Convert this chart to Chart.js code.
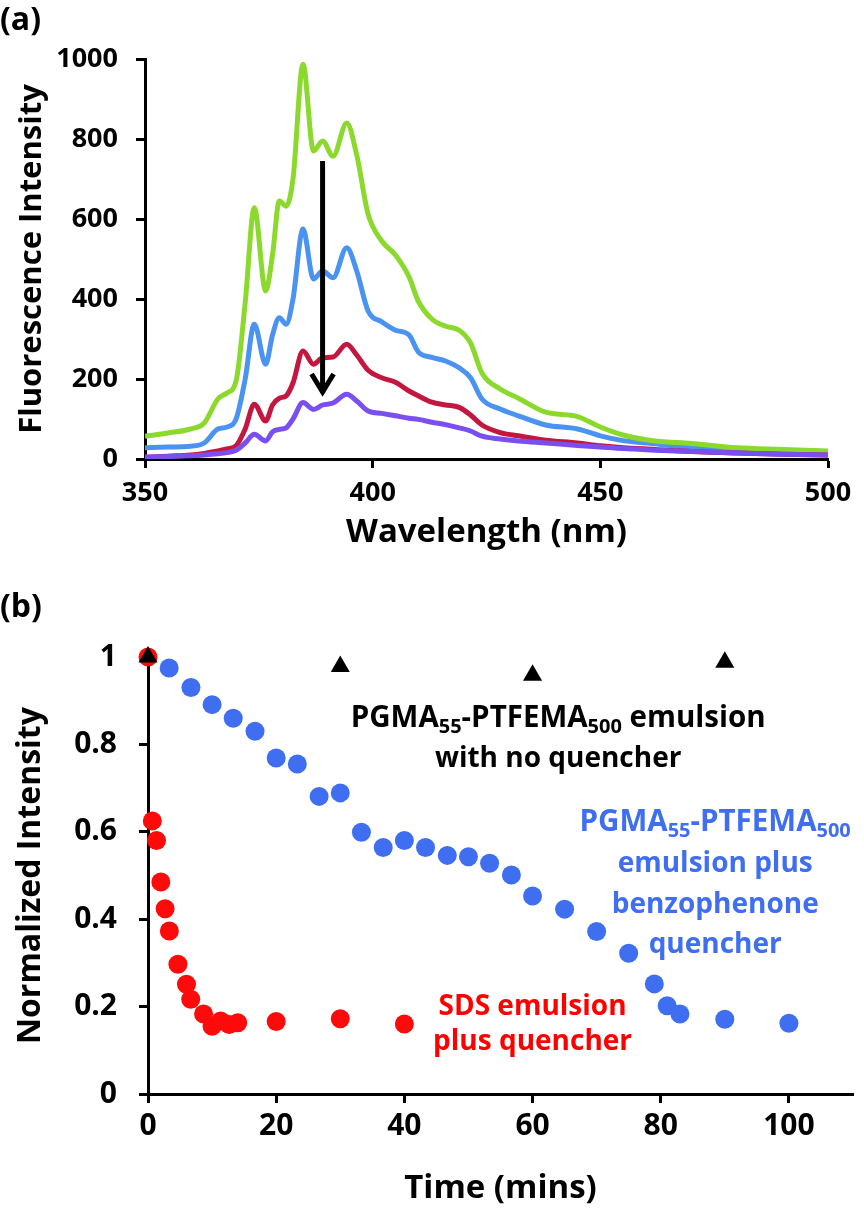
<!DOCTYPE html>
<html>
<head>
<meta charset="utf-8">
<script src="https://cdn.jsdelivr.net/npm/chart.js@4.4.1/dist/chart.umd.min.js"></script>
<style>
  html, body { margin: 0; padding: 0; background: #fff; }
  body { width: 864px; height: 1212px; position: relative; overflow: hidden; }
  canvas { position: absolute; left: 0; }
  #chartA { top: 0; }
  #chartB { top: 580px; }
  .panel { position: absolute; left: 0; font: bold 32px "Open Sans"; color: #000; line-height: 40px; }
</style>
</head>
<body>
<canvas id="chartA" width="864" height="560"></canvas>
<canvas id="chartB" width="864" height="632"></canvas>
<div class="panel" style="top:-2px">(a)</div>
<div class="panel" style="top:585px">(b)</div>
<script>
// ---- (a) emission spectra ----
const WAVELENGTH = [350, 355, 360, 363, 366, 368, 370, 372, 374, 376.5, 378, 379.5, 381, 382.5, 384.7,
  387, 389, 391.3, 394.3, 396.5, 399, 402, 405, 408, 410, 413, 416, 419, 421.5, 424, 428, 432, 438,
  445, 450, 455, 462, 470, 480, 490, 500];
const SPEC_GREEN = [57, 65, 75, 90, 150, 165, 195, 390, 628, 420, 510, 645, 632, 700, 987,
  770, 795, 757, 840, 760, 612, 545, 510, 455, 395, 350, 332, 322, 290, 215, 175, 152, 117,
  106, 80, 60, 45, 39, 28, 24, 20];
const SPEC_BLUE = [28, 30, 32, 40, 75, 80, 100, 200, 337, 237, 310, 353, 337, 400, 575,
  450, 470, 453, 528, 470, 370, 343, 322, 310, 268, 254, 245, 228, 203, 150, 125, 108, 85,
  75, 58, 46, 38, 28, 22, 18, 16];
const SPEC_RED = [4, 7, 10, 14, 20, 25, 33, 75, 137, 95, 135, 152, 158, 190, 270,
  237, 253, 255, 287, 260, 222, 203, 192, 170, 158, 142, 135, 129, 110, 85, 66, 58, 47,
  40, 33, 28, 24, 19, 15, 12, 10];
const SPEC_PURPLE = [5, 6, 8, 10, 13, 16, 22, 40, 62, 45, 68, 74, 78, 100, 141,
  124, 135, 140, 162, 145, 120, 114, 108, 102, 99, 92, 86, 78, 70, 57, 50, 45, 40,
  34, 30, 26, 22, 19, 15, 12, 10];
const ARROW = { wavelength: 389, from: 745, to: 160 };

// ---- (b) quenching kinetics ----
const T_TICKS = [0, 20, 40, 60, 80, 100];
const T_NONE = [0, 30, 60, 90];
const I_NONE = [1.0, 0.978, 0.958, 0.988];
const T_BENZO = [3.3, 6.7, 10, 13.3, 16.7, 20, 23.3, 26.7, 30, 33.3, 36.7, 40, 43.3, 46.7, 50,
  53.3, 56.7, 60, 65, 70, 75, 79, 81, 83, 90, 100];
const I_BENZO = [0.975, 0.93, 0.891, 0.86, 0.83, 0.769, 0.755, 0.681, 0.689, 0.599, 0.564, 0.58,
  0.564, 0.546, 0.543, 0.528, 0.501, 0.453, 0.423, 0.372, 0.322, 0.252, 0.202, 0.183, 0.171, 0.162];
const T_SDS = [0, 0.67, 1.33, 2, 2.67, 3.33, 4.67, 6, 6.67, 8.67, 10, 11.33, 12.67, 14, 20, 30, 40];
const I_SDS = [1.0, 0.625, 0.58, 0.485, 0.424, 0.373, 0.297, 0.251, 0.217, 0.183, 0.155, 0.167,
  0.159, 0.163, 0.166, 0.172, 0.16];

const FONT = "Open Sans";
Chart.defaults.font.family = FONT;
Chart.defaults.font.weight = "bold";
Chart.defaults.color = "#000";

const pts = (xs, ys) => xs.map((x, i) => ({ x, y: ys[i] }));

function axis(min, max, step, tickSize, tickPad, title, titleSize, titlePad, extra) {
  return Object.assign({
    type: "linear", min, max,
    border: { color: "#000", width: 3 },
    grid: { drawOnChartArea: false, color: "#000", tickColor: "#000", tickLength: 9, tickWidth: 3 },
    ticks: {
      stepSize: step, color: "#000", padding: tickPad, autoSkip: false,
      font: { size: tickSize, weight: "bold" },
      callback: (v) => String(Math.round(v * 10) / 10),
    },
    title: { display: true, text: title, color: "#000", font: { size: titleSize, weight: "bold" }, padding: titlePad },
  }, extra);
}

const spectrumLine = (data, color) => ({
  data: pts(WAVELENGTH, data), borderColor: color, borderWidth: 5, pointRadius: 0,
  cubicInterpolationMode: "monotone", fill: false,
});

const arrowPlugin = {
  id: "arrow",
  afterDatasetsDraw(chart) {
    const { ctx, scales: { x, y } } = chart;
    const px = x.getPixelForValue(ARROW.wavelength);
    const y0 = y.getPixelForValue(ARROW.from);
    const y1 = y.getPixelForValue(ARROW.to);
    ctx.save();
    ctx.strokeStyle = "#000";
    ctx.lineWidth = 5;
    ctx.beginPath();
    ctx.moveTo(px, y0);
    ctx.lineTo(px, y1 - 2);
    ctx.stroke();
    ctx.beginPath();
    ctx.moveTo(px - 11, y1 - 21);
    ctx.lineTo(px, y1 - 3);
    ctx.lineTo(px + 11, y1 - 21);
    ctx.stroke();
    ctx.restore();
  },
};

new Chart(document.getElementById("chartA"), {
  type: "line",
  data: {
    datasets: [
      spectrumLine(SPEC_PURPLE, "#7a4ff0"),
      spectrumLine(SPEC_RED, "#c4173f"),
      spectrumLine(SPEC_GREEN, "#8cd92e"),
      spectrumLine(SPEC_BLUE, "#4b93f0"),
    ],
  },
  options: {
    responsive: false, animation: false,
    layout: { padding: { top: 59, right: 36, bottom: 0, left: 0 } },
    plugins: { legend: { display: false }, tooltip: { enabled: false } },
    scales: {
      x: axis(350, 500, 50, 27, 9, "Wavelength (nm)", 33, { top: 0, bottom: 8 }, {
        afterFit: (s) => { s.height = 101; },
      }),
      y: axis(0, 1000, 200, 27, 18, "Fluorescence Intensity", 31, { top: 14, bottom: 0 }, {
        afterFit: (s) => { s.width = 145; },
      }),
    },
  },
  plugins: [arrowPlugin],
});

// ---- (b) labels ----
const NOTES = [
  { color: "#000", x: 64, lines: [
    { y: 0.840, size: 29.5, parts: [["PGMA"], ["55", 1], ["-PTFEMA"], ["500", 1], [" emulsion"]] },
    { y: 0.749, size: 28, parts: [["with no quencher"]] },
  ] },
  { color: "#3f6ff0", x: 88.5, lines: [
    { y: 0.601, size: 29.5, parts: [["PGMA"], ["55", 1], ["-PTFEMA"], ["500", 1]] },
    { y: 0.509, size: 28, parts: [["emulsion plus"]] },
    { y: 0.414, size: 28, parts: [["benzophenone"]] },
    { y: 0.323, size: 28, parts: [["quencher"]] },
  ] },
  { color: "#ff0000", x: 60, lines: [
    { y: 0.181, size: 28, parts: [["SDS emulsion"]] },
    { y: 0.101, size: 28, parts: [["plus quencher"]] },
  ] },
];

const notesPlugin = {
  id: "notes",
  afterDatasetsDraw(chart) {
    const { ctx, scales: { x, y } } = chart;
    ctx.save();
    ctx.textBaseline = "alphabetic";
    ctx.textAlign = "left";
    NOTES.forEach((note) => {
      ctx.fillStyle = note.color;
      const cx = x.getPixelForValue(note.x);
      note.lines.forEach((line) => {
        const by = y.getPixelForValue(line.y);
        const segs = line.parts.map(([t, sub]) => {
          const f = `bold ${sub ? Math.round(line.size * 0.68) : line.size}px "${FONT}"`;
          ctx.font = f;
          return { t, sub, f, w: ctx.measureText(t).width };
        });
        let px = cx - segs.reduce((a, s) => a + s.w, 0) / 2;
        segs.forEach((s) => {
          ctx.font = s.f;
          ctx.fillText(s.t, px, by + (s.sub ? 6 : 0));
          px += s.w;
        });
      });
    });
    ctx.restore();
  },
};

new Chart(document.getElementById("chartB"), {
  type: "scatter",
  data: {
    datasets: [
      { data: pts(T_NONE, I_NONE), pointStyle: "triangle", pointRadius: 11, backgroundColor: "#000", borderColor: "#000", borderWidth: 0, clip: false },
      { data: pts(T_SDS, I_SDS), pointRadius: 9.5, backgroundColor: "#ff0a0a", borderWidth: 0, clip: false },
      { data: pts(T_BENZO, I_BENZO), pointRadius: 9.5, backgroundColor: "#3f6ff0", borderWidth: 0, clip: false },
    ],
  },
  options: {
    responsive: false, animation: false,
    layout: { padding: { top: 77, right: 4, bottom: 0, left: 0 } },
    plugins: { legend: { display: false }, tooltip: { enabled: false } },
    scales: {
      x: axis(0, 110, 20, 30, 5, "Time (mins)", 33, { top: 0, bottom: 4 }, {
        afterFit: (s) => { s.height = 118; },
        afterBuildTicks: (s) => { s.ticks = T_TICKS.map((value) => ({ value })); },
      }),
      y: axis(0, 1, 0.2, 30, 22, "Normalized Intensity", 32, { top: 12, bottom: 0 }, {
        afterFit: (s) => { s.width = 148; },
      }),
    },
  },
  plugins: [notesPlugin],
});
</script>
</body>
</html>
